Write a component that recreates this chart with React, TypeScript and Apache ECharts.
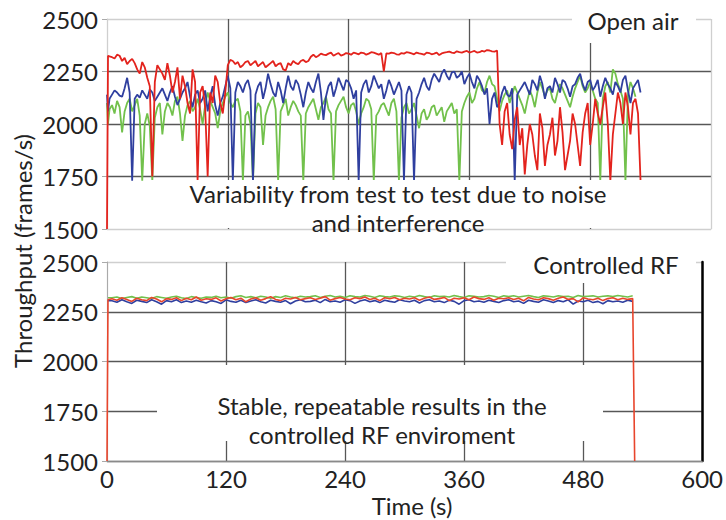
import React, { useEffect, useRef } from "react";
import * as echarts from "echarts";

// ---------- Top panel (Open air) ----------
const topTimes = [0, 1,
  2.5, 5, 7.5, 10, 12.5, 15, 17.5, 20, 22.5, 25, 27.5, 30, 32.5, 35, 37.5, 40, 42.5, 45, 47.5, 50,
  52.5, 55, 57.5, 60, 62.5, 65, 67.5, 70, 72.5, 75, 77.5, 80, 82.5, 85, 87.5, 90, 92.5, 95, 97.5, 100,
  102.5, 105, 107.5, 110, 112.5, 115, 117.5, 120, 122.5, 125, 127.5, 130, 132.5, 135, 137.5, 140, 142.5, 145, 147.5, 150,
  152.5, 155, 157.5, 160, 162.5, 165, 167.5, 170, 172.5, 175, 177.5, 180, 182.5, 185, 187.5, 190, 192.5, 195, 197.5, 200,
  202.5, 205, 207.5, 210, 212.5, 215, 217.5, 220, 222.5, 225, 227.5, 230, 232.5, 235, 237.5, 240, 242.5, 245, 247.5, 250,
  252.5, 255, 257.5, 260, 262.5, 265, 267.5, 270, 272.5, 275, 277.5, 280, 282.5, 285, 287.5, 290, 292.5, 295, 297.5, 300,
  302.5, 305, 307.5, 310, 312.5, 315, 317.5, 320, 322.5, 325, 327.5, 330, 332.5, 335, 337.5, 340, 342.5, 345, 347.5, 350,
  352.5, 355, 357.5, 360, 362.5, 365, 367.5, 370, 372.5, 375, 377.5, 380, 382.5, 385, 387.5, 390, 392.5, 395, 397.5, 400,
  402.5, 405, 407.5, 410, 412.5, 415, 417.5, 420, 422.5, 425, 427.5, 430, 432.5, 435, 437.5, 440, 442.5, 445, 447.5, 450,
  452.5, 455, 457.5, 460, 462.5, 465, 467.5, 470, 472.5, 475, 477.5, 480, 482.5, 485, 487.5, 490, 492.5, 495, 497.5, 500,
  502.5, 505, 507.5, 510, 512.5, 515, 517.5, 520, 522.5, 525, 527.5, 530];

const redTop = [1500, 2325,
  2322, 2318, 2312, 2330, 2325, 2300, 2315, 2285, 2300, 2310, 2290, 2260, 2240, 2295, 2270, 2220, 2180, 1750, 2200, 2280,
  2260, 2240, 2210, 2290, 2230, 2150, 2200, 2270, 2120, 2230, 2180, 2100, 2050, 2260, 2200, 1730, 2150, 2180, 2080, 1750,
  2150, 2100, 2230, 2200, 2100, 2050, 2150, 2280, 2305, 2300, 2285, 2295, 2270, 2280, 2295, 2300, 2280, 2290, 2300, 2275,
  2285, 2295, 2270, 2280, 2290, 2300, 2275, 2285, 2290, 2260, 2255, 2290, 2280, 2300, 2290, 2285, 2300, 2305, 2295, 2300,
  2320, 2330, 2318, 2325, 2335, 2330, 2328, 2335, 2340, 2325, 2332, 2338, 2326, 2330, 2338, 2335, 2330, 2340, 2336, 2332,
  2340, 2338, 2330, 2335, 2342, 2340, 2335, 2330, 2338, 2250, 2336, 2335, 2340, 2338, 2332, 2330, 2338, 2335, 2342, 2340,
  2336, 2332, 2340, 2336, 2334, 2330, 2340, 2338, 2332, 2335, 2340, 2328, 2336, 2340, 2342, 2345, 2340, 2338, 2346, 2342,
  2340, 2345, 2348, 2340, 2344, 2348, 2340, 2342, 2348, 2345, 2352, 2350, 2346, 2345, 2350, 2000, 1900, 2060, 2100, 1950,
  1880, 2020, 2080, 1900, 1980, 1760, 1900, 2000, 1950, 1850, 1780, 2050, 1980, 1800, 1900, 1950, 2030, 1850, 1920, 2080,
  1960, 1780, 1850, 1920, 2050, 2000, 1900, 1800, 1960, 2050, 2100, 1900, 2000, 2120, 2050, 2000, 2080, 2150, 2000, 1730,
  1950, 2050, 2150, 2100, 2000, 2150, 2080, 1950, 2100, 2120, 2050, 1730];

const blueTop = [2140, 2060,
  2120, 2140, 2160, 2150, 2135, 2130, 2170, 2220, 2150, 1730, 2120, 2140, 2125, 2160, 2140, 2120, 2165, 2150, 2110, 2130,
  2150, 2170, 2140, 2110, 2150, 2180, 2130, 2090, 2120, 2150, 2170, 2200, 2130, 2080, 2140, 2160, 2100, 2120, 2160, 2060,
  2130, 2180, 2090, 2040, 2100, 2130, 2180, 2230, 2170, 1730, 2150, 2200, 2180, 2150, 2190, 2210, 2160, 1730, 2140, 2180,
  2200, 2120, 2170, 2240, 2190, 2150, 2130, 2200, 2160, 2100, 2170, 2230, 2180, 2160, 2210, 2190, 2140, 2080, 2150, 2200,
  2170, 2150, 2200, 2240, 2150, 2020, 2130, 2180, 2200, 2130, 2170, 2220, 2190, 2160, 2210, 2200, 2170, 2120, 2160, 1730,
  2150, 2190, 2210, 2150, 2180, 2230, 2200, 2170, 2190, 2120, 2160, 2210, 2180, 2140, 2170, 2200, 2160, 1730, 2140, 2180,
  2150, 1730, 2120, 2150, 2190, 2220, 2180, 2160, 2210, 2240, 2220, 2200, 2240, 2260, 2230, 2210, 2245, 2250, 2220, 2230,
  2250, 2190, 2220, 2240, 2200, 2170, 2230, 2210, 2180, 2140, 2170, 2000, 2120, 2150, 2080, 2100, 2150, 2180, 2140, 2130,
  2170, 1730, 2140, 2160, 2180, 2200, 2170, 2140, 2210, 2190, 2160, 2230, 2190, 2120, 2170, 2180, 2150, 2220, 2190, 2150,
  2210, 2200, 2170, 2130, 2180, 2190, 2220, 2240, 2190, 2160, 2200, 2210, 2160, 2180, 2210, 2130, 2180, 2220, 2190, 2170,
  2140, 2200, 2180, 2150, 2210, 2230, 2160, 2100, 2170, 2190, 2210, 2150];

const greenTop = [2100, 2000,
  2070, 2090, 2050, 2110, 2080, 1960, 2060, 2100, 2120, 2060, 2090, 2120, 2040, 1730, 2000, 2050, 1990, 1730, 2030, 2080,
  2100, 1950, 2060, 2100, 2080, 2040, 2110, 2130, 2050, 1920, 2040, 2090, 2110, 2060, 2080, 2120, 2070, 2000, 2090, 2150,
  2110, 2080, 2050, 1980, 2060, 2100, 2130, 2150, 2100, 2080, 2110, 2120, 2060, 1730, 2040, 2060, 2000, 1730, 2050, 2100,
  2080, 1900, 2040, 2080, 2110, 2130, 2070, 1730, 2060, 2090, 2120, 2040, 2080, 2110, 2090, 2060, 2040, 1730, 2050, 2080,
  2100, 2120, 2070, 2020, 2080, 2100, 2130, 2070, 2050, 1730, 2060, 2090, 2110, 2130, 2080, 2050, 2090, 2100, 2060, 2000,
  2050, 2080, 2120, 2110, 2070, 1730, 2040, 2060, 2090, 2100, 2070, 2040, 2100, 2120, 2060, 1730, 2030, 2080, 2100, 2050,
  2070, 2100, 2040, 1980, 2050, 2070, 2020, 2040, 2080, 2090, 2040, 2060, 2080, 2010, 2060, 2080, 2100, 2050, 2070, 1730,
  2060, 2100, 2130, 2150, 2100, 2120, 2170, 2200, 2160, 2150, 2200, 2230, 2190, 2180, 2120, 2060, 2110, 2140, 2160, 2100,
  2140, 2180, 2150, 2120, 2090, 2050, 2110, 2160, 2130, 2080, 2150, 2200, 2170, 2130, 2160, 2170, 2120, 2100, 2150, 2190,
  2170, 2140, 2110, 2080, 2130, 2170, 2200, 2230, 2180, 2150, 2170, 2200, 2160, 2120, 2100, 1730, 2120, 2180, 2200, 2150,
  2260, 2240, 2190, 2160, 2120, 1730, 2140, 2200, 2170, 2130, null, null];

// ---------- Bottom panel (Controlled RF) ----------
const bottomTimes = [0, 1,
  5, 10, 15, 20, 25, 30, 35, 40, 45, 50, 55, 60, 65, 70, 75, 80, 85, 90, 95, 100,
  105, 110, 115, 120, 125, 130, 135, 140, 145, 150, 155, 160, 165, 170, 175, 180, 185, 190, 195, 200,
  205, 210, 215, 220, 225, 230, 235, 240, 245, 250, 255, 260, 265, 270, 275, 280, 285, 290, 295, 300,
  305, 310, 315, 320, 325, 330, 335, 340, 345, 350, 355, 360, 365, 370, 375, 380, 385, 390, 395, 400,
  405, 410, 415, 420, 425, 430, 435, 440, 445, 450, 455, 460, 465, 470, 475, 480, 485, 490, 495, 500,
  505, 510, 515, 520, 525, 530, 532];

const redBottom = [1500, 2310,
  2315, 2308, 2320, 2312, 2302, 2318, 2310, 2306, 2322, 2314, 2300, 2316, 2312, 2320, 2306, 2318, 2310, 2324, 2308, 2315,
  2312, 2320, 2304, 2316, 2322, 2310, 2318, 2300, 2314, 2320, 2308, 2316, 2325, 2312, 2306, 2318, 2314, 2322, 2310, 2316,
  2320, 2312, 2318, 2326, 2308, 2316, 2322, 2314, 2310, 2320, 2316, 2324, 2312, 2318, 2306, 2320, 2315, 2322, 2310, 2318,
  2314, 2320, 2308, 2318, 2324, 2312, 2316, 2322, 2306, 2318, 2314, 2320, 2310, 2324, 2316, 2312, 2320, 2308, 2318, 2315,
  2320, 2312, 2318, 2305, 2322, 2314, 2310, 2320, 2316, 2308, 2318, 2324, 2312, 2316, 2300, 2320, 2314, 2310, 2318, 2306,
  2316, 2320, 2310, 2318, 2312, 2316, 1500];

const blueBottom = [null, 2305,
  2305, 2298, 2310, 2300, 2292, 2308, 2302, 2296, 2310, 2300, 2288, 2306, 2300, 2310, 2296, 2304, 2298, 2308, 2300, 2294,
  2306, 2300, 2292, 2310, 2302, 2298, 2308, 2296, 2304, 2310, 2300, 2294, 2308, 2302, 2298, 2306, 2290, 2304, 2310, 2300,
  2302, 2308, 2296, 2312, 2300, 2304, 2298, 2310, 2306, 2292, 2304, 2310, 2300, 2306, 2296, 2308, 2302, 2298, 2310, 2304,
  2300, 2308, 2294, 2306, 2310, 2300, 2304, 2296, 2308, 2302, 2288, 2306, 2310, 2300, 2304, 2298, 2308, 2302, 2296, 2306,
  2310, 2300, 2304, 2292, 2308, 2302, 2298, 2310, 2304, 2296, 2306, 2300, 2310, 2288, 2304, 2300, 2308, 2296, 2302, 2290,
  2306, 2300, 2304, 2298, 2308, 2302, null];

const greenBottom = [null, 2320,
  2320, 2324, 2316, 2322, 2326, 2318, 2324, 2320, 2316, 2326, 2322, 2318, 2324, 2328, 2320, 2316, 2326, 2322, 2318, 2324,
  2322, 2328, 2320, 2324, 2318, 2326, 2330, 2322, 2326, 2320, 2328, 2324, 2318, 2326, 2322, 2330, 2324, 2320, 2328, 2324,
  2326, 2330, 2322, 2328, 2332, 2324, 2328, 2322, 2330, 2326, 2324, 2332, 2328, 2322, 2330, 2326, 2324, 2330, 2328, 2322,
  2328, 2324, 2332, 2326, 2322, 2330, 2326, 2328, 2324, 2332, 2326, 2322, 2330, 2328, 2324, 2326, 2332, 2328, 2322, 2330,
  2326, 2330, 2324, 2328, 2332, 2326, 2322, 2330, 2328, 2324, 2330, 2326, 2328, 2322, 2332, 2326, 2328, 2330, 2324, 2328,
  2330, 2326, 2332, 2328, 2324, 2330, null];

const xTicks = [0, 120, 240, 360, 480, 600];
const yTicks = [1500, 1750, 2000, 2250, 2500];

const RED = "#e3231d";
const BLUE = "#2f3f9f";
const GREEN = "#72c14c";
const FONT = "Lato";
const FS = 24;
const TXT = "#222";

function pairs(times: number[], vals: (number | null)[]) {
  const out: [number, number][] = [];
  times.forEach((t, i) => {
    const v = vals[i];
    if (v !== null && v !== undefined) out.push([t, v]);
  });
  return out;
}

function lineSeries(name: string, color: string, x: number, times: number[], vals: (number | null)[], w: number) {
  return {
    name,
    type: "line",
    xAxisIndex: x,
    yAxisIndex: x,
    data: pairs(times, vals),
    showSymbol: false,
    symbol: "none",
    lineStyle: { color, width: w },
    itemStyle: { color },
    z: 3,
  };
}

const txtStyle = (text: string, extra: any = {}) => ({
  text,
  font: `${FS}px "${FONT}"`,
  fill: TXT,
  align: "center",
  verticalAlign: "middle",
  textAlign: "center",
  textVerticalAlign: "middle",
  ...extra,
});

export default function App() {
  const ref = useRef<HTMLDivElement>(null);
  useEffect(() => {
    if (!ref.current) return;
    const chart = echarts.init(ref.current, null, { renderer: "svg" });
    const dark = "#575757";
    const light = "#cfcfcf";
    const yLabel = {
      show: true,
      fontSize: FS,
      fontFamily: FONT,
      color: TXT,
      margin: 9,
      formatter: (v: number) => (yTicks.indexOf(v) >= 0 ? String(v) : ""),
    };
    chart.setOption({
      animation: false,
      grid: [
        { left: 107, top: 19, width: 604, height: 210 },
        { left: 107, top: 262, width: 604, height: 199 },
      ],
      xAxis: [
        {
          gridIndex: 0, type: "value", min: xTicks[0], max: xTicks[xTicks.length - 1], interval: 120,
          axisLabel: { show: false }, axisTick: { show: false },
          axisLine: { show: true, lineStyle: { color: light } },
          splitLine: { show: true, lineStyle: { color: [light, dark, dark, dark, dark, light], width: 1.3 } },
        },
        {
          gridIndex: 1, type: "value", min: xTicks[0], max: xTicks[xTicks.length - 1], interval: 120,
          axisLabel: { show: true, fontSize: FS, fontFamily: FONT, color: TXT, margin: 5, formatter: (v: number) => String(v) },
          axisTick: { show: false },
          axisLine: { show: true, lineStyle: { color: "#8a8a8a", width: 1.3 } },
          splitLine: { show: true, lineStyle: { color: [light, dark, dark, dark, dark, light], width: 1.3 } },
        },
      ],
      yAxis: [
        {
          gridIndex: 0, type: "value", min: 1500, max: 2500, interval: 250,
          axisLabel: yLabel,
          axisTick: { show: true, length: 5, lineStyle: { color: "#aaa" } },
          axisLine: { show: true, lineStyle: { color: light } },
          splitLine: { show: true, lineStyle: { color: [light, dark, dark, dark, light], width: 1.3 } },
        },
        {
          gridIndex: 1, type: "value", min: 1500, max: 2500, interval: 250,
          axisLabel: yLabel,
          axisTick: { show: true, length: 5, lineStyle: { color: "#aaa" } },
          axisLine: { show: true, lineStyle: { color: "#aaa" } },
          splitLine: { show: true, lineStyle: { color: ["#8a8a8a", dark, dark, dark, light], width: 1.3 } },
        },
        {
          gridIndex: 1, type: "value", min: 1500, max: 2500, interval: 250, position: "right",
          axisLabel: { show: false }, axisTick: { show: false },
          axisLine: { show: true, lineStyle: { color: "#000", width: 2.5 } },
          splitLine: { show: false },
        },
      ],
      series: [
        lineSeries("Test 3 (open air)", GREEN, 0, topTimes, greenTop, 1.8),
        lineSeries("Test 2 (open air)", BLUE, 0, topTimes, blueTop, 1.8),
        lineSeries("Test 1 (open air)", RED, 0, topTimes, redTop, 1.8),
        lineSeries("Test 3 (controlled RF)", GREEN, 1, bottomTimes, greenBottom, 1.6),
        lineSeries("Test 2 (controlled RF)", BLUE, 1, bottomTimes, blueBottom, 1.6),
        { ...lineSeries("Test 1 (controlled RF)", RED, 1, bottomTimes, redBottom, 1.6), lineStyle: { color: "#e8452c", width: 1.6 } },
      ],
      graphic: [
        { type: "rect", shape: { x: 572, y: 0, width: 124, height: 43 }, style: { fill: "#fff" }, z: 100 },
        { type: "text", x: 633, y: 20, z: 101, style: txtStyle("Open air") },
        { type: "rect", shape: { x: 506, y: 245, width: 190, height: 38 }, style: { fill: "#fff" }, z: 100 },
        { type: "text", x: 606, y: 264, z: 101, style: txtStyle("Controlled RF") },
        { type: "rect", shape: { x: 150, y: 180, width: 500, height: 48 }, style: { fill: "#fff" }, z: 100 },
        { type: "text", x: 398, y: 193, z: 101, style: txtStyle("Variability from test to test due to noise") },
        { type: "text", x: 398, y: 222, z: 101, style: txtStyle("and interference") },
        { type: "rect", shape: { x: 157, y: 365, width: 446, height: 76 }, style: { fill: "#fff" }, z: 100 },
        { type: "text", x: 382, y: 405, z: 101, style: txtStyle("Stable, repeatable results in the") },
        { type: "text", x: 382, y: 434, z: 101, style: txtStyle("controlled RF enviroment") },
        { type: "text", x: 22, y: 251, rotation: Math.PI / 2, z: 101, style: txtStyle("Throughput (frames/s)") },
        { type: "text", x: 412, y: 505, z: 101, style: txtStyle("Time (s)") },
      ],
    });
    return () => chart.dispose();
  }, []);
  return <div ref={ref} style={{ position: "fixed", left: 0, top: 0, width: 726, height: 520, background: "#fff" }} />;
}
